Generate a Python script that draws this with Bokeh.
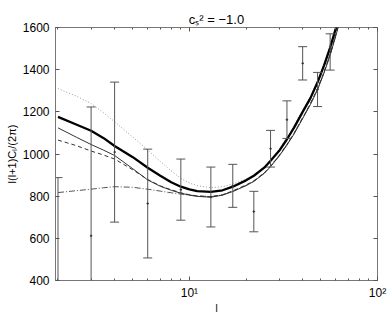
from bokeh.plotting import figure
from bokeh.models import FixedTicker, LogAxis, LinearAxis, CustomJSTickFormatter
from bokeh.embed import file_html
from bokeh.resources import INLINE

# ---- data ----
ell_bins = [2, 3, 4, 6, 9, 13, 17, 22, 27, 33, 40, 48, 56]
cl_data = [200, 612, 1009, 765, 831, 796, 849, 727, 1025, 1163, 1430, 1306, 1484]
cl_err = [688, 611, 332, 258, 145, 142, 102, 96, 87, 89, 79, 81, 86]

ell_curve = [2, 2.5, 3, 3.5, 4, 5, 6, 7, 8, 9, 10, 11, 13, 15, 17, 20, 22, 25, 27,
             30, 33, 36, 40, 44, 48, 52, 56, 60, 64]
cl_thick = [1176, 1140, 1110, 1075, 1038, 985, 935, 897, 866, 845, 832, 824, 820, 828,
            845, 875, 897, 935, 968, 1015, 1070, 1125, 1200, 1265, 1340, 1420, 1505, 1595, 1690]
cl_thin = [1124, 1080, 1045, 1018, 993, 930, 877, 847, 828, 814, 805, 799, 795, 805,
           822, 850, 870, 908, 940, 990, 1042, 1095, 1168, 1235, 1305, 1385, 1468, 1560, 1650]
cl_dashed = [1066, 1040, 1014, 995, 976, 925, 879, 849, 830, 816, 807, 801, 797, 807,
             825, 853, 873, 911, 943, 993, 1046, 1099, 1172, 1240, 1310, 1390, 1474, 1566, 1657]
cl_dotted = [1310, 1275, 1239, 1195, 1153, 1080, 1019, 965, 920, 885, 862, 850, 840, 845,
             858, 880, 900, 940, 972, 1022, 1078, 1132, 1207, 1272, 1348, 1428, 1512, 1602, 1695]
cl_dashdot = [817, 826, 833, 840, 845, 842, 833, 824, 816, 810, 805, 801, 798, 806,
              823, 851, 871, 910, 942, 992, 1045, 1098, 1171, 1238, 1308, 1388, 1472, 1563, 1655]

y_ticks = [400, 600, 800, 1000, 1200, 1400, 1600]
x_ticks = [10, 100]
x_minor = [2, 3, 4, 5, 6, 7, 8, 9, 20, 30, 40, 50, 60, 70, 80, 90]
x_tick_labels = {10: "10\u00b9", 100: "10\u00b2"}

FONT = "Liberation Sans"
AX = "#777777"
TK = "#555555"

p = figure(width=390, height=316, x_axis_type="log", x_range=(1.94, 100), y_range=(400, 1600),
           output_backend="svg", toolbar_location=None,
           min_border_left=55, min_border_right=13, min_border_top=27, min_border_bottom=35)
p.xgrid.visible = False
p.ygrid.visible = False
p.outline_line_color = AX
p.background_fill_color = "white"

# title  c_s^2 = -1.0
p.title.text = "c\u209b\u00b2 = \u22121.0"
p.title.align = "center"
p.title.offset = 10
p.title.text_font = FONT
p.title.text_font_size = "13px"
p.title.text_font_style = "normal"
p.title.text_color = "black"
p.title.standoff = 2

xt = FixedTicker(ticks=x_ticks, minor_ticks=x_minor)
yt = FixedTicker(ticks=y_ticks, minor_ticks=[])

bottom = p.below[0]
left = p.left[0]
bottom.ticker = xt
bottom.major_label_overrides = x_tick_labels
left.ticker = yt

blank = CustomJSTickFormatter(code="return '';")
top = LogAxis(ticker=xt, formatter=blank, axis_line_color=None, major_label_standoff=0)
right = LinearAxis(ticker=yt, formatter=blank, axis_line_color=None, major_label_standoff=0)
p.add_layout(top, "above")
p.add_layout(right, "right")

for ax in (bottom, left, top, right):
    ax.major_tick_in = 4
    ax.major_tick_out = 0
    ax.minor_tick_in = 2
    ax.minor_tick_out = 0
    ax.major_tick_line_color = TK
    ax.minor_tick_line_color = TK
    ax.major_label_text_font = FONT
    ax.major_label_text_color = "black"
    ax.major_label_text_font_size = "12px"
top.major_label_text_font_size = "2px"
right.major_label_text_font_size = "2px"

bottom.axis_line_color = AX
left.axis_line_color = AX
bottom.major_label_standoff = 5
left.major_label_standoff = 6

bottom.axis_label = "l"
bottom.axis_label_text_font = FONT
bottom.axis_label_text_font_style = "normal"
bottom.axis_label_text_color = "black"
bottom.axis_label_text_font_size = "10px"
bottom.axis_label_standoff = 0

left.axis_label = "l(l+1)C\u2097/(2\u03c0)"
left.axis_label_text_font = FONT
left.axis_label_text_font_style = "normal"
left.axis_label_text_color = "black"
left.axis_label_text_font_size = "11px"
left.axis_label_standoff = 2

# ---- curves ----
p.line(ell_curve, cl_dashdot, line_color="#555555", line_width=1, line_dash="6 2 1 2")
p.line(ell_curve, cl_dotted, line_color="#999999", line_width=1, line_dash="1 2")
p.line(ell_curve, cl_dashed, line_color="#333333", line_width=1, line_dash="4 3")
p.line(ell_curve, cl_thin, line_color="#333333", line_width=1)
p.line(ell_curve, cl_thick, line_color="black", line_width=2.3)

# ---- error bars ----
upper = [c + e for c, e in zip(cl_data, cl_err)]
lower = [c - e for c, e in zip(cl_data, cl_err)]
p.segment(x0=ell_bins, y0=lower, x1=ell_bins, y1=upper, line_color="#555555", line_width=1)
p.scatter(ell_bins, upper, marker="dash", size=9, line_color="#555555", line_width=1)
p.scatter(ell_bins, lower, marker="dash", size=9, line_color="#555555", line_width=1)
p.scatter(ell_bins, cl_data, marker="circle", size=1.5, fill_color="#333333", line_color="#333333")

open("out.html", "w").write(file_html(p, INLINE))
